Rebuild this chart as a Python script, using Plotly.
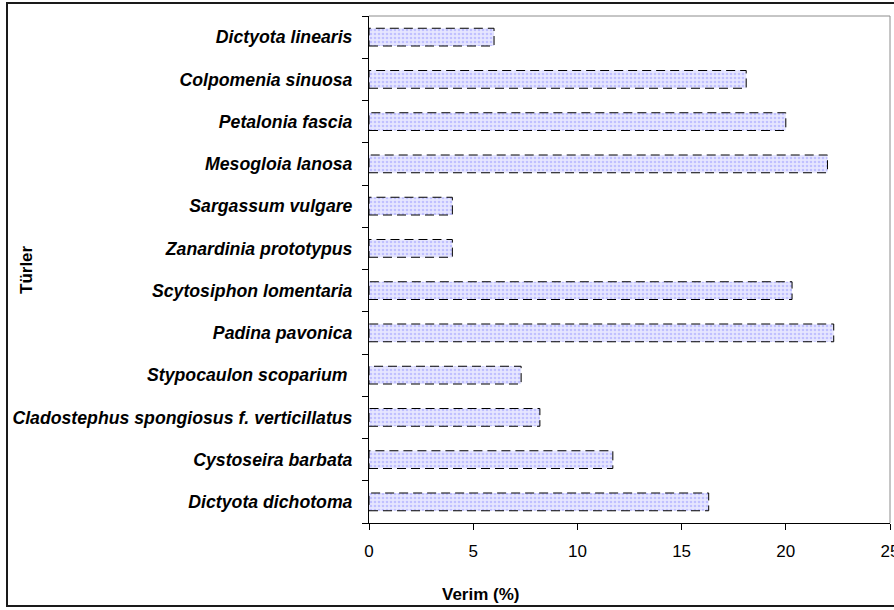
import plotly.graph_objects as go

# Data (bottom to top)
species = [
    "Dictyota dichotoma",
    "Cystoseira barbata",
    "Cladostephus spongiosus f. verticillatus",
    "Stypocaulon scoparium ",
    "Padina pavonica",
    "Scytosiphon lomentaria",
    "Zanardinia prototypus",
    "Sargassum vulgare",
    "Mesogloia lanosa",
    "Petalonia fascia",
    "Colpomenia sinuosa",
    "Dictyota linearis",
]
verim = [16.3, 11.7, 8.2, 7.3, 22.3, 20.3, 4.0, 4.0, 22.0, 20.0, 18.1, 6.0]
x_ticks = [0, 5, 10, 15, 20, 25]

W, H = 894, 610
L, R, T, B = 369, 4, 16, 87
pw, ph = W - L - R, H - T - B

def px_x(p):
    return (p - L) / pw

def px_y(p):
    return (H - B - p) / ph

FONT = "Liberation Sans, Arial, sans-serif"
bar_w = 0.42
pos = list(range(len(species)))

fig = go.Figure()
fig.add_trace(go.Bar(
    y=pos, x=verim, orientation="h", width=bar_w,
    marker=dict(
        color="#e6e6ff",
        line=dict(width=0),
        pattern=dict(shape=".", fgcolor="#9a9aff", size=4, solidity=0.35, fillmode="overlay"),
    ),
    hoverinfo="skip", showlegend=False,
))

# dashed outlines derived from the data
ox, oy = [], []
h = bar_w / 2
for i, v in zip(pos, verim):
    ox += [0, v, v, 0, 0, None]
    oy += [i - h, i - h, i + h, i + h, i - h, None]
fig.add_trace(go.Scatter(
    x=ox, y=oy, mode="lines",
    line=dict(color="black", width=1, dash="9px,5px"),
    hoverinfo="skip", showlegend=False,
))

fig.update_layout(
    width=W, height=H,
    margin=dict(l=L, r=R, t=T, b=B, pad=0, autoexpand=False),
    paper_bgcolor="white", plot_bgcolor="white",
    font=dict(family=FONT, size=17, color="black"),
    xaxis=dict(
        range=[0, 25], tickmode="array", tickvals=x_ticks, automargin=False,
        ticks="outside", ticklen=6, tickcolor="black", tickwidth=1,
        showline=True, linecolor="black", linewidth=1,
        showgrid=False, zeroline=False,
        tickfont=dict(family=FONT, size=17, color="black"),
        ticklabeloverflow="allow", ticklabelstandoff=7,
    ),
    yaxis=dict(
        range=[-0.5, len(species) - 0.5], tickmode="array", tickvals=pos, ticktext=species,
        automargin=False,
        ticks="", showline=True, linecolor="black", linewidth=1,
        showgrid=False, zeroline=False,
        tickfont=dict(family=FONT, size=17.7, color="black", weight="bold", style="italic"),
        ticklabelstandoff=12,
        minor=dict(tickmode="array", tickvals=[i - 0.5 for i in range(len(species) + 1)],
                   ticks="outside", ticklen=6, tickcolor="black", tickwidth=1, showgrid=False),
    ),
    shapes=[
        dict(type="line", xref="paper", yref="paper", x0=0, x1=1, y0=1, y1=1,
             line=dict(color="#8c8c8c", width=1)),
        dict(type="line", xref="paper", yref="paper", x0=1, x1=1, y0=0, y1=1,
             line=dict(color="#8c8c8c", width=1)),
        dict(type="rect", xref="paper", yref="paper",
             x0=px_x(7), x1=px_x(905), y0=px_y(606), y1=px_y(3),
             line=dict(color="#1a1a1a", width=2), fillcolor="rgba(0,0,0,0)"),
    ],
    annotations=[
        dict(text="<b>Türler</b>", xref="paper", yref="paper", x=px_x(26), y=px_y(270),
             textangle=-90, showarrow=False, xanchor="center", yanchor="middle",
             font=dict(family=FONT, size=17, color="black")),
        dict(text="<b>Verim (%)</b>", xref="paper", yref="paper", x=px_x(480), y=px_y(594),
             showarrow=False, xanchor="center", yanchor="middle",
             font=dict(family=FONT, size=17, color="black")),
    ],
)

fig.write_html(
    "out.html",
    config={"displayModeBar": False},
    post_script="document.body.style.margin='0';document.body.style.overflow='hidden';",
)
